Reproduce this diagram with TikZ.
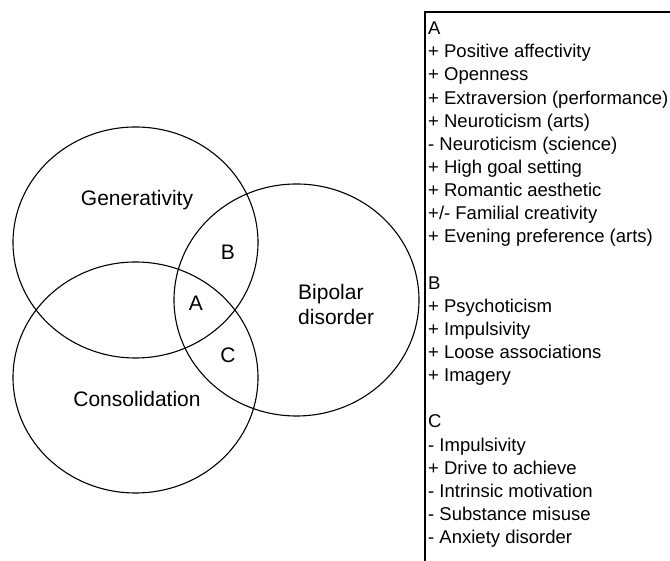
\documentclass[tikz,border=0pt]{standalone}
\usepackage{fontspec}
\setmainfont{Liberation Sans}
\usepackage{tikz}
\tikzset{region/.style={line width=1.1pt},
  label/.style={inner sep=0pt,font=\fontsize{21}{25}\selectfont},
  item/.style={inner sep=0pt,anchor=base west,font=\fontsize{18.5}{23}\selectfont}}

\begin{document}
\begin{tikzpicture}[x=1pt,y=1pt]
  \useasboundingbox (0,0) rectangle (670,561);

  \coordinate (gen) at (135.5,318.5);
  \coordinate (bip) at (296.5,261);
  \coordinate (con) at (135.5,183.5);

  \draw[region] (gen) ellipse (122.5 and 115.5);
  \draw[region] (bip) ellipse (122.5 and 116);
  \draw[region] (con) ellipse (122.5 and 115.5);

  \node[label] (G) at (137,361) {Generativity};
  \node[label] (K) at (137,162) {Consolidation};
  \node[label,anchor=west,align=left] (D) at (298,256.5) {Bipolar\\disorder};
  \node[label] (A) at (196,258) {A};
  \node[label] (B) at (228,309) {B};
  \node[label] (C) at (228,206) {C};

  % key box
  \draw[line width=1.5pt] (670,549) -- (425,549) -- (425,0);
  \foreach \txt [count=\i] in {A,+ Positive affectivity,+ Openness,
      + Extraversion (performance),+ Neuroticism (arts),- Neuroticism (science),
      + High goal setting,+ Romantic aesthetic,+/- Familial creativity,
      + Evening preference (arts),{},B,+ Psychoticism,+ Impulsivity,
      + Loose associations,+ Imagery,{},C,- Impulsivity,+ Drive to achieve,
      - Intrinsic motivation,- Substance misuse,- Anxiety disorder}
    \node[item] (l\i) at (428,{526.4-(\i-1)*23.14}) {\txt};
\end{tikzpicture}
\end{document}
